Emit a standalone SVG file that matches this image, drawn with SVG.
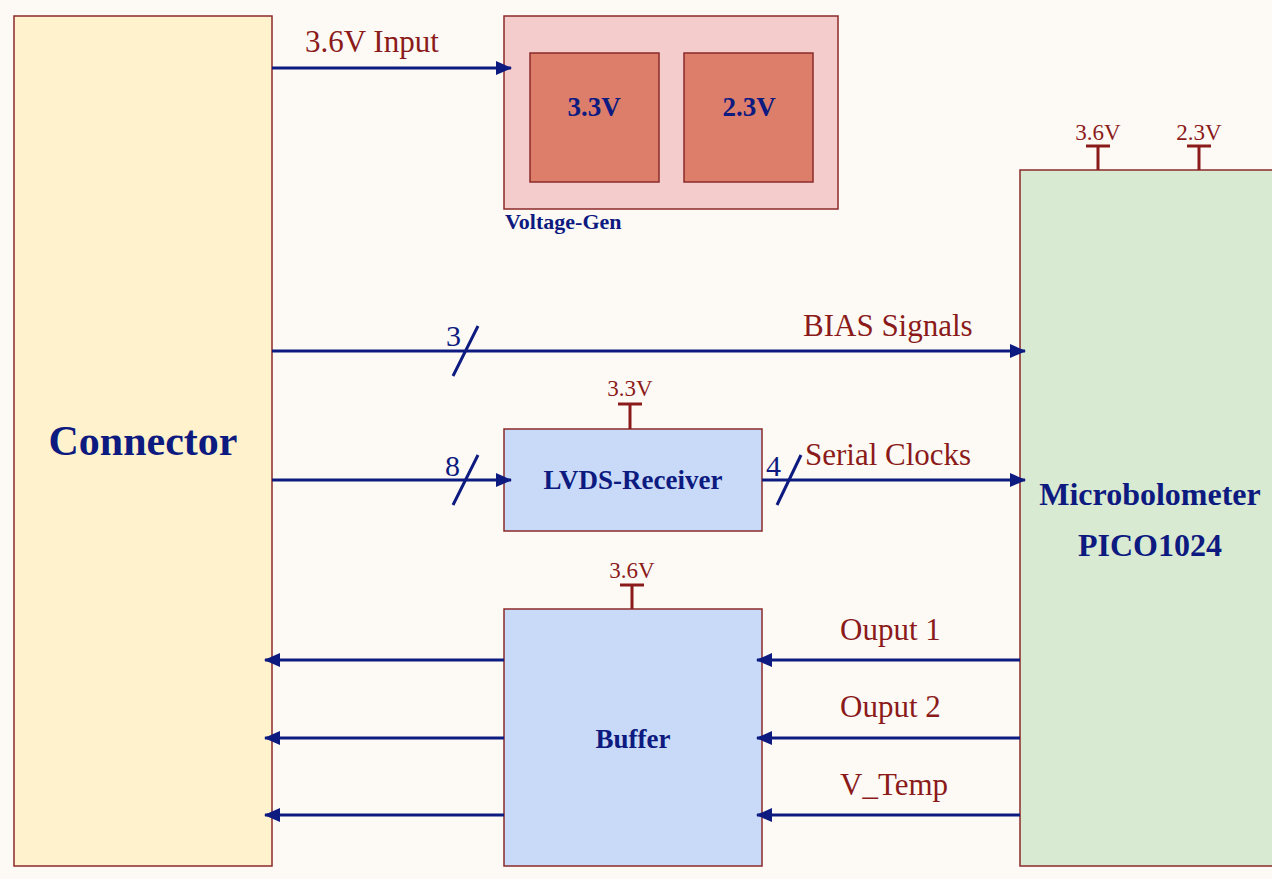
<svg xmlns="http://www.w3.org/2000/svg" width="1272" height="879" viewBox="0 0 1272 879">
<defs>
<style>
.box{stroke:#8b2a2a;stroke-width:1.5}
.wire{stroke:#0d1a80;stroke-width:3;fill:none}
.pin{stroke:#8b1a1a;stroke-width:3;fill:none}
.lbl{font-family:"Liberation Serif",serif;fill:#8b1a1a}
.ttl{font-family:"Liberation Serif",serif;font-weight:bold;fill:#0d1a80}
.num{font-family:"Liberation Serif",serif;fill:#0d1a80;font-size:30px}
</style>
<marker id="ah" viewBox="0 0 16 14" refX="15" refY="7" markerWidth="16" markerHeight="14" markerUnits="userSpaceOnUse" orient="auto">
<path d="M0,0 L16,7 L0,14 Z" fill="#0d1a80"/>
</marker>
</defs>
<rect width="1272" height="879" fill="#fdfaf5"/>

<g id="connector">
<rect class="box" x="14" y="16" width="258" height="850" fill="#fff2cc"/>
<text class="ttl" x="143" y="455" font-size="42" text-anchor="middle">Connector</text>
</g>

<g id="voltage-gen">
<rect class="box" x="504" y="16" width="334" height="193" fill="#f4cccc"/>
<rect class="box" x="530" y="53" width="129" height="129" fill="#dd7e6b"/>
<rect class="box" x="684" y="53" width="129" height="129" fill="#dd7e6b"/>
<text class="ttl" x="594" y="116" font-size="27" text-anchor="middle">3.3V</text>
<text class="ttl" x="749" y="116" font-size="27" text-anchor="middle">2.3V</text>
<text class="ttl" x="505" y="229" font-size="22">Voltage-Gen</text>
</g>

<g id="microbolometer">
<rect class="box" x="1020" y="170" width="260" height="696" fill="#d9ead3"/>
<path class="pin" d="M1086,146 H1110 M1098,146 V170 M1187,146 H1211 M1199,146 V170"/>
<text class="lbl" x="1098" y="140" font-size="23" text-anchor="middle">3.6V</text>
<text class="lbl" x="1199" y="140" font-size="23" text-anchor="middle">2.3V</text>
<text class="ttl" x="1150" y="505" font-size="32" text-anchor="middle">Microbolometer</text>
<text class="ttl" x="1150" y="556" font-size="32" text-anchor="middle">PICO1024</text>
</g>

<g id="lvds-receiver">
<rect class="box" x="504" y="429" width="258" height="102" fill="#c9daf8"/>
<path class="pin" d="M618,404 H642 M630,404 V429"/>
<text class="lbl" x="630" y="396" font-size="23" text-anchor="middle">3.3V</text>
<text class="ttl" x="633" y="489" font-size="27" text-anchor="middle">LVDS-Receiver</text>
</g>

<g id="buffer">
<rect class="box" x="504" y="609" width="258" height="257" fill="#c9daf8"/>
<path class="pin" d="M620,585 H644 M632,585 V609"/>
<text class="lbl" x="632" y="578" font-size="23" text-anchor="middle">3.6V</text>
<text class="ttl" x="633" y="748" font-size="27" text-anchor="middle">Buffer</text>
</g>

<g id="connectors">
<line class="wire" x1="272" y1="68" x2="511" y2="68" marker-end="url(#ah)"/>
<text class="lbl" x="305" y="52" font-size="31">3.6V Input</text>

<line class="wire" x1="272" y1="351" x2="1025" y2="351" marker-end="url(#ah)"/>
<line class="wire" x1="453" y1="376" x2="478" y2="326"/>
<text class="num" x="446" y="346">3</text>
<text class="lbl" x="803" y="336" font-size="31">BIAS Signals</text>

<line class="wire" x1="272" y1="480" x2="511" y2="480" marker-end="url(#ah)"/>
<line class="wire" x1="453" y1="505" x2="478" y2="455"/>
<text class="num" x="445" y="476">8</text>

<line class="wire" x1="762" y1="480" x2="1025" y2="480" marker-end="url(#ah)"/>
<line class="wire" x1="777" y1="505" x2="801" y2="455"/>
<text class="num" x="766" y="476">4</text>
<text class="lbl" x="805" y="465" font-size="31">Serial Clocks</text>

<line class="wire" x1="504" y1="660" x2="265" y2="660" marker-end="url(#ah)"/>
<line class="wire" x1="504" y1="738" x2="265" y2="738" marker-end="url(#ah)"/>
<line class="wire" x1="504" y1="815" x2="265" y2="815" marker-end="url(#ah)"/>

<line class="wire" x1="1020" y1="660" x2="757" y2="660" marker-end="url(#ah)"/>
<line class="wire" x1="1020" y1="738" x2="757" y2="738" marker-end="url(#ah)"/>
<line class="wire" x1="1020" y1="815" x2="757" y2="815" marker-end="url(#ah)"/>
<text class="lbl" x="840" y="640" font-size="31">Ouput 1</text>
<text class="lbl" x="840" y="717" font-size="31">Ouput 2</text>
<text class="lbl" x="840" y="795" font-size="31">V_Temp</text>
</g>
</svg>
